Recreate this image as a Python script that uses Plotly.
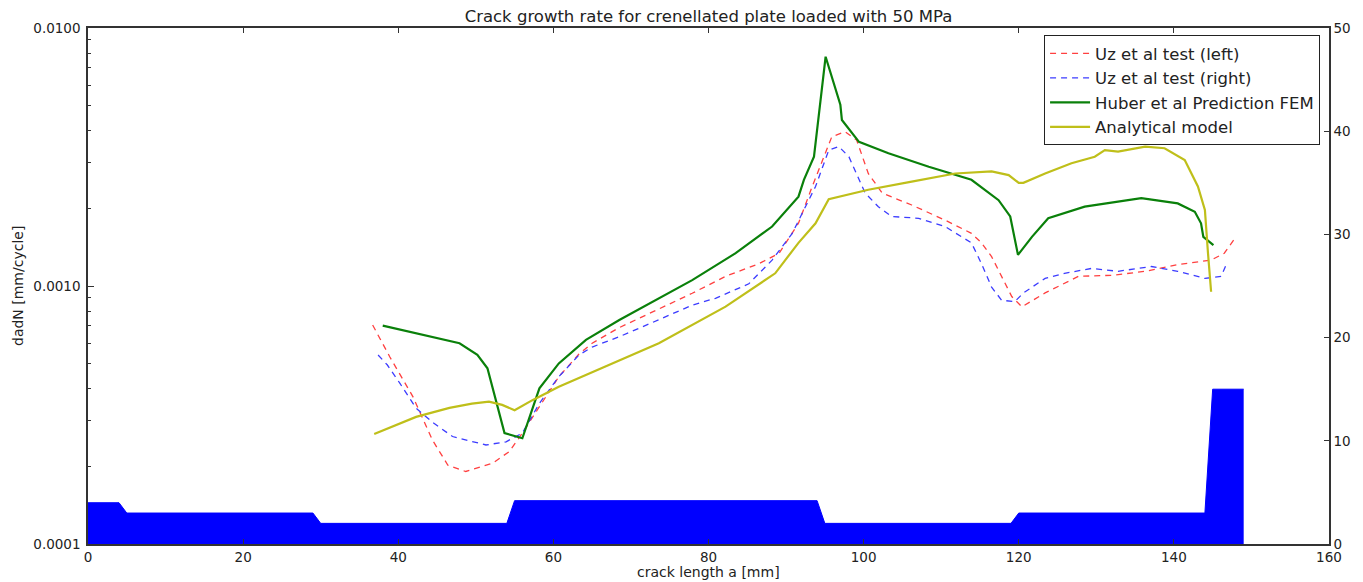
import plotly.graph_objects as go

# Plate thickness profile (right axis)
thick_x = [0, 4, 5, 29, 30, 54, 55, 94, 95, 119, 120, 144, 145, 149]
thick_y = [4, 4, 3, 3, 2, 2, 4.2, 4.2, 2, 2, 3, 3, 15, 15]

# Uz et al test (left)
red_x = [36.7, 38.9, 41.9, 44.4, 46.4, 48.7, 52.2, 54.3, 56.0, 58.2, 60.7, 63.3, 65.0, 68.5, 71.5,
         77.9, 82.2, 86.5, 89.1, 91.6, 93.3, 94.2, 95.1, 95.9, 97.6, 99.1, 100.6, 102.4, 106.2, 110.5,
         113.9, 115.2, 116.5, 117.4, 119.1, 120.4, 123.4, 127.7, 132.0, 136.3, 140.5, 144.8, 146.5, 148.0]
red_y = [0.000706, 0.000532, 0.000372, 0.000253, 0.000202, 0.000191, 0.000206, 0.000228, 0.000269,
         0.00034, 0.000445, 0.000545, 0.0006, 0.00069, 0.00076, 0.000937, 0.00109, 0.00122, 0.00134,
         0.00175, 0.0024, 0.0028, 0.0033, 0.00379, 0.00396, 0.00368, 0.00273, 0.00229, 0.00206, 0.0018,
         0.0016, 0.00147, 0.0013, 0.00115, 0.00091, 0.00083, 0.00094, 0.00109, 0.0011, 0.00114, 0.00121,
         0.00126, 0.00134, 0.00155]

# Uz et al test (right)
blue_x = [37.4, 38.6, 40.2, 42.3, 44.5, 47.0, 51.3, 53.9, 56.0, 58.2, 60.7, 63.3, 65.0, 68.5, 71.5,
          77.9, 80.9, 85.2, 88.2, 90.8, 92.5, 93.8, 95.5, 96.8, 98.1, 100.2, 101.9, 103.6, 107.1, 110.5,
          113.9, 115.2, 116.5, 117.8, 119.5, 120.6, 123.4, 125.9, 129.4, 132.8, 137.1, 140.5, 144.0,
          146.1, 146.8]
blue_y = [0.00054, 0.000494, 0.00042, 0.000336, 0.000295, 0.000261, 0.000242, 0.000249, 0.000269,
          0.000351, 0.000445, 0.00054, 0.00058, 0.000636, 0.000695, 0.000843, 0.000896, 0.00102,
          0.00126, 0.0016, 0.00203, 0.00243, 0.00336, 0.00347, 0.00317, 0.00229, 0.00203, 0.00186,
          0.00183, 0.0017, 0.00147, 0.00122, 0.00099, 0.00088, 0.00087, 0.00094, 0.00107, 0.00112,
          0.00117, 0.00114, 0.00119, 0.00114, 0.00107, 0.00109, 0.00122]

# Huber et al Prediction FEM
green_x = [38.0, 47.9, 50.2, 51.5, 53.7, 56.0, 58.2, 60.7, 64.2, 68.5, 77.9, 83.5, 88.2, 91.6, 92.3,
           93.6, 95.1, 97.0, 97.2, 99.4, 103.2, 108.4, 113.9, 117.4, 118.9, 119.9, 121.7, 123.8, 128.5,
           135.8, 140.5, 142.7, 143.5, 143.8, 145.1]
green_y = [0.000702, 0.0006, 0.000541, 0.00048, 0.000269, 0.000257, 0.000401, 0.000501, 0.000618,
           0.000738, 0.001054, 0.00134, 0.0017, 0.00222, 0.00258, 0.00317, 0.00774, 0.00504, 0.0044,
           0.00362, 0.00327, 0.0029, 0.00258, 0.00215, 0.00186, 0.00132, 0.00155, 0.00183, 0.00203,
           0.00219, 0.00209, 0.00194, 0.00175, 0.00155, 0.00144]

# Analytical model
yel_x = [36.9, 42.3, 46.6, 49.5, 51.7, 53.4, 55.0, 57.3, 60.7, 68.5, 73.6, 82.2, 88.6, 91.6, 93.8,
         95.5, 100.6, 106.2, 111.8, 116.5, 118.7, 120.0, 120.6, 123.4, 126.8, 129.8, 131.1, 132.8,
         136.3, 138.8, 141.4, 143.1, 144.0, 144.4, 144.8]
yel_y = [0.000267, 0.000311, 0.000337, 0.00035, 0.000356, 0.000346, 0.00033, 0.000361, 0.000407,
         0.000516, 0.0006, 0.000832, 0.00112, 0.00147, 0.00175, 0.00217, 0.00236, 0.00254, 0.00273,
         0.00278, 0.00269, 0.00251, 0.00251, 0.00273, 0.00299, 0.00317, 0.00336, 0.00332, 0.00347,
         0.00342, 0.00308, 0.00243, 0.00197, 0.00134, 0.00095]

left_ticks = [0.0001, 0.001, 0.01]
left_ticktext = ["0.0001", "0.0010", "0.0100"]
minor_ticks = [m * 10 ** e for e in (-4, -3) for m in range(2, 10)]

FONT = "DejaVu Sans"
TXT = "#222222"

fig = go.Figure()
fig.add_trace(go.Scatter(x=thick_x, y=thick_y, yaxis="y2", mode="lines", fill="tozeroy",
                         line=dict(color="#0000ff", width=1), fillcolor="#0000ff",
                         showlegend=False, hoverinfo="skip"))
fig.add_trace(go.Scatter(x=red_x, y=red_y, mode="lines", name="Uz et al test (left)",
                         line=dict(color="#ff4040", width=1.3, dash="6px,5px")))
fig.add_trace(go.Scatter(x=blue_x, y=blue_y, mode="lines", name="Uz et al test (right)",
                         line=dict(color="#3c3cff", width=1.3, dash="6px,5px")))
fig.add_trace(go.Scatter(x=green_x, y=green_y, mode="lines", name="Huber et al Prediction FEM",
                         line=dict(color="#0a800a", width=2.2)))
fig.add_trace(go.Scatter(x=yel_x, y=yel_y, mode="lines", name="Analytical model",
                         line=dict(color="#bfbf1a", width=2.2)))

fig.update_layout(
    width=1363, height=582,
    margin=dict(l=88, r=32, t=28, b=38),
    paper_bgcolor="white", plot_bgcolor="white",
    font=dict(family=FONT, size=13.5, color=TXT),
    title=dict(text="Crack growth rate for crenellated plate loaded with 50 MPa",
               x=0.5, xref="paper", xanchor="center", y=1 - 16 / 582, yanchor="middle",
               font=dict(family=FONT, size=16.5, color=TXT)),
    xaxis=dict(range=[0, 160], tickvals=[0, 20, 40, 60, 80, 100, 120, 140, 160],
               ticks="inside", ticklen=5, tickcolor="#333", showgrid=False, zeroline=False,
               showline=True, linecolor="#333", linewidth=1.5, mirror="ticks",
               tickfont=dict(size=13.5, color=TXT)),
    yaxis=dict(type="log", range=[-4, -2], tickvals=left_ticks, ticktext=left_ticktext,
               ticks="inside", ticklen=6, tickcolor="#333", showgrid=False, zeroline=False,
               showline=True, linecolor="#333", linewidth=1.5,
               minor=dict(tickvals=minor_ticks, ticks="inside", ticklen=3, tickcolor="#333",
                          showgrid=False),
               tickfont=dict(size=13.5, color=TXT), ticklabelstandoff=3),
    yaxis2=dict(range=[0, 50], overlaying="y", side="right", tickvals=[0, 10, 20, 30, 40, 50],
                ticks="inside", ticklen=5, tickcolor="#333", showgrid=False, zeroline=False,
                showline=True, linecolor="#333", linewidth=1.5,
                tickfont=dict(size=13.5, color=TXT)),
    legend=dict(x=0.9928, xanchor="right", y=0.986, yanchor="top",
                bgcolor="white", bordercolor="#222", borderwidth=1,
                font=dict(family=FONT, size=16.5, color=TXT), itemwidth=40,
                tracegroupgap=0),
    annotations=[
        dict(text="crack length a [mm]", x=0.5, y=0, xref="paper", yref="paper",
             xanchor="center", yanchor="middle", yshift=-28, showarrow=False,
             font=dict(family=FONT, size=14, color=TXT)),
        dict(text="dadN [mm/cycle]", x=0, y=0.5, xref="paper", yref="paper",
             xanchor="center", yanchor="middle", xshift=-70, textangle=-90, showarrow=False,
             font=dict(family=FONT, size=14, color=TXT)),
    ],
)

fig.write_html("out.html")
